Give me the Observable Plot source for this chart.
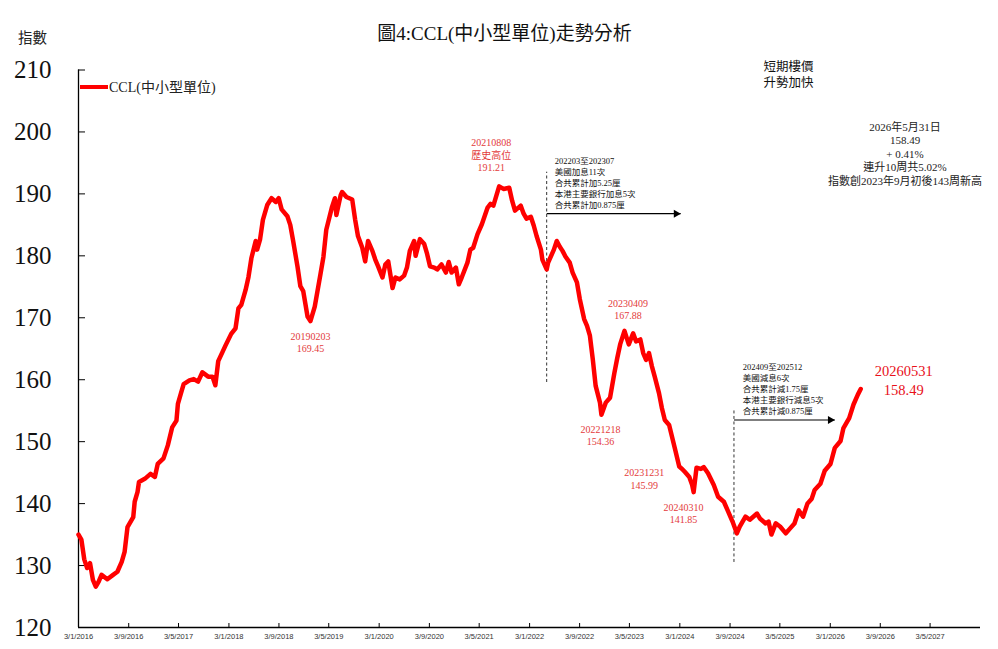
<!DOCTYPE html>
<html><head><meta charset="utf-8">
<script src="https://cdn.jsdelivr.net/npm/d3@7"></script>
<script src="https://cdn.jsdelivr.net/npm/@observablehq/plot@0.6"></script>
<style>
body{margin:0;background:#fff;}
#wrap{position:relative;width:998px;height:649px;overflow:hidden;font-family:"Liberation Serif","Noto Sans CJK TC",serif;color:#000;background:#fff}
#wrap svg{position:absolute;left:0;top:0}
.t{position:absolute;white-space:nowrap;line-height:1;transform:translate(-50%,-50%);text-align:center}
</style></head><body><div id="wrap"></div>
<script>
// ---- data ----
const dates = ["2016-01-03","2016-01-17","2016-01-31","2016-02-14","2016-02-28","2016-03-13","2016-03-27","2016-04-10","2016-04-24","2016-05-22","2016-06-19","2016-07-10","2016-07-31","2016-08-14","2016-08-28","2016-09-25","2016-10-02","2016-10-16","2016-10-23","2016-11-20","2016-12-18","2017-01-08","2017-01-22","2017-02-19","2017-03-12","2017-04-02","2017-04-23","2017-04-30","2017-05-14","2017-05-28","2017-06-25","2017-07-16","2017-08-06","2017-08-27","2017-09-24","2017-10-15","2017-10-29","2017-11-12","2017-12-03","2017-12-17","2018-01-14","2018-02-04","2018-02-18","2018-03-04","2018-03-25","2018-04-08","2018-04-22","2018-05-13","2018-05-20","2018-06-03","2018-06-17","2018-07-08","2018-07-29","2018-08-19","2018-09-02","2018-09-16","2018-10-14","2018-10-28","2018-11-11","2018-12-02","2018-12-16","2018-12-30","2019-01-20","2019-02-03","2019-02-24","2019-03-24","2019-04-07","2019-04-21","2019-05-19","2019-06-02","2019-06-09","2019-06-30","2019-07-07","2019-07-28","2019-08-25","2019-09-08","2019-09-22","2019-10-13","2019-10-27","2019-11-10","2019-12-01","2019-12-15","2019-12-29","2020-01-19","2020-02-02","2020-02-16","2020-03-08","2020-03-22","2020-04-12","2020-05-03","2020-05-17","2020-05-31","2020-06-21","2020-06-28","2020-07-19","2020-08-09","2020-08-23","2020-09-06","2020-09-27","2020-10-11","2020-11-01","2020-11-22","2020-12-06","2020-12-20","2021-01-10","2021-01-24","2021-02-07","2021-03-07","2021-03-21","2021-04-04","2021-04-25","2021-05-16","2021-06-13","2021-06-27","2021-07-11","2021-08-08","2021-08-29","2021-09-26","2021-10-10","2021-10-24","2021-11-21","2021-12-05","2021-12-19","2022-01-09","2022-01-23","2022-02-06","2022-02-27","2022-03-06","2022-03-27","2022-04-03","2022-05-01","2022-05-15","2022-05-29","2022-06-12","2022-06-26","2022-07-17","2022-07-31","2022-08-21","2022-09-04","2022-09-25","2022-10-09","2022-10-23","2022-11-06","2022-11-20","2022-12-11","2022-12-18","2023-01-08","2023-01-29","2023-02-19","2023-03-05","2023-03-19","2023-04-09","2023-04-30","2023-05-21","2023-06-04","2023-06-25","2023-07-09","2023-07-23","2023-08-06","2023-08-20","2023-09-03","2023-09-24","2023-10-08","2023-10-22","2023-11-12","2023-11-26","2023-12-10","2023-12-31","2024-01-14","2024-01-28","2024-02-18","2024-03-03","2024-03-10","2024-03-24","2024-04-14","2024-04-28","2024-05-19","2024-06-16","2024-07-07","2024-08-04","2024-08-25","2024-09-15","2024-10-06","2024-10-20","2024-11-17","2024-12-08","2025-01-12","2025-01-26","2025-02-23","2025-03-09","2025-03-23","2025-04-13","2025-05-04","2025-06-01","2025-06-22","2025-07-13","2025-08-03","2025-08-24","2025-09-14","2025-10-05","2025-10-19","2025-11-16","2025-12-07","2026-01-04","2026-01-25","2026-02-22","2026-03-08","2026-04-05","2026-04-26","2026-05-17","2026-05-31"];
const ccl = [135.0,134.2,131.0,129.6,130.4,127.7,126.6,127.4,128.5,127.8,128.5,129.0,130.6,132.2,136.2,137.8,140.3,141.9,143.5,144.0,144.8,144.3,146.4,147.3,149.4,152.3,153.4,156.1,157.7,159.3,159.9,160.1,159.7,161.2,160.5,160.5,159.1,163.0,164.5,165.5,167.4,168.3,171.5,172.1,174.5,176.6,179.6,182.4,181.0,182.6,185.8,188.2,189.3,188.7,189.3,187.5,186.4,185.0,182.4,178.3,175.1,174.3,170.2,169.45,171.8,177.1,179.8,184.2,187.9,189.3,186.6,189.8,190.3,189.5,189.1,185.9,183.2,181.3,179.1,182.4,180.8,179.4,178.3,176.5,178.6,179.1,174.8,176.5,176.2,176.8,178.1,180.8,182.4,180.0,182.7,181.9,180.3,178.3,178.1,177.8,178.6,177.3,179.0,177.3,178.1,175.4,176.5,178.9,181.0,181.3,183.5,185.1,187.8,188.4,188.1,191.21,190.8,191.0,188.9,187.3,188.1,186.8,186.0,186.3,184.9,183.2,181.0,179.4,177.8,178.9,181.0,182.4,181.5,180.8,179.9,178.9,177.3,175.7,173.0,169.8,168.7,167.1,163.3,159.0,156.3,154.36,156.3,157.1,161.1,163.5,165.7,167.88,165.7,167.5,166.2,166.5,164.3,163.2,164.3,162.2,160.5,157.8,155.4,153.5,152.7,150.8,148.9,145.99,145.6,145.1,144.3,143.0,141.85,145.8,145.6,145.9,144.9,143.0,141.1,140.3,138.7,137.1,135.2,136.3,137.9,137.4,138.4,137.6,136.8,137.1,135.0,136.8,136.3,135.2,136.0,136.8,138.9,137.9,140.0,140.8,142.2,143.2,145.3,146.4,149.0,150.1,152.2,153.8,156.0,157.6,158.49];

const yTicks = [120,130,140,150,160,170,180,190,200,210];
const xTickLabels = ["3/1/2016","3/9/2016","3/5/2017","3/1/2018","3/9/2018","3/5/2019","3/1/2020","3/9/2020","3/5/2021","3/1/2022","3/9/2022","3/5/2023","3/1/2024","3/9/2024","3/5/2025","3/1/2026","3/9/2026","3/5/2027"];
const xDomain = ["2016-01-03","2028-01-03"];

const hlDates = ["2019-02-03","2021-08-08","2023-04-09","2022-12-18","2023-12-31","2024-03-10","2026-05-31"];
const hlValues = [169.45,191.21,167.88,154.36,145.99,141.85,158.49];
const hlLabels = ["20190203\n169.45","20210808\n歷史高位\n191.21","20230409\n167.88","20221218\n154.36","20231231\n145.99","20240310\n141.85","20260531\n158.49"];

const rateStart = ["2022-03-27","2024-09-22"];
const rateArrowEnd = ["2024-01-07","2026-01-25"];
const rateTexts = ["202203至202307\n美國加息11次\n合共累計加5.25厘\n本港主要銀行加息5次\n合共累計加0.875厘",
                   "202409至202512\n美國減息6次\n合共累計減1.75厘\n本港主要銀行減息5次\n合共累計減0.875厘"];

const titleText = "圖4:CCL(中小型單位)走勢分析";
const yUnit = "指數";
const legendText = "CCL(中小型單位)";
const noteShort = ["短期樓價","升勢加快"];
const noteLatest = ["2026年5月31日","158.49","+ 0.41%","連升10周共5.02%","指數創2023年9月初後143周新高"];

// ---- build ----
const parse = d3.utcParse("%Y-%m-%d");
const series = dates.map((d,i)=>({date: parse(d), value: ccl[i]}));
const xTicks = xTickLabels.map(s => { const [d,m,y] = s.split("/").map(Number); return new Date(Date.UTC(y,m-1,d)); });
const fmt = new Map(xTicks.map((d,i)=>[+d, xTickLabels[i]]));
const x0 = parse(xDomain[0]), x1 = parse(xDomain[1]);
const hl = hlDates.map((d,i)=>({date: parse(d), value: hlValues[i], label: hlLabels[i]}));

// label placement (pixel offsets relative to the point)
const hlLayout = [[0,21],[-8,-31.6],[3.5,-21.7],[-1,20.5],[-35,12],[-10,21],[43,-9.4]];
const serif = '"Liberation Serif","Noto Sans CJK TC",serif';

const hlMarks = hl.map((d,i)=>{
  const big = i === hl.length-1;
  return Plot.text([d], {x:"date", y:"value", text:"label", dx: hlLayout[i][0], dy: hlLayout[i][1],
    fill: big ? "#e8101a" : "#e33b3b", fontSize: big ? 14.5 : 10, lineHeight: big ? 1.27 : 1.25,
    lineAnchor:"middle", textAnchor:"middle", fontFamily: serif});
});

const rateLayout = [{y1:159.55,y2:193.5,ya:186.8,yt:196.0,dxT:8,lh:1.28},{y1:130.5,y2:155.0,ya:153.5,yt:162.8,dxT:8.7,lh:1.3}];
const rateMarks = rateStart.flatMap((s,i)=>{
  const L = rateLayout[i], xs = parse(s), xe = parse(rateArrowEnd[i]);
  return [
    Plot.ruleX([xs], {y1:L.y1, y2:L.y2, stroke:"#333", strokeWidth:1, strokeDasharray:"3,2.5"}),
    Plot.link([0], {x1:()=>xs, x2:()=>xe, y1:()=>L.ya, y2:()=>L.ya, stroke:"#000", strokeWidth:1.2}),
    Plot.dot([0], {x:()=>xe, y:()=>L.ya, symbol:"triangle", rotate:90, r:3, fill:"#000", stroke:"none", dx:-4.5}),
    Plot.text([rateTexts[i]], {x:()=>xs, y:()=>L.yt, text:d=>d, dx:L.dxT, textAnchor:"start", lineAnchor:"top",
      fontSize:8.5, lineHeight:L.lh, fill:"#111", fontFamily: serif})
  ];
});

const chart = Plot.plot({
  width: 998, height: 649,
  marginLeft: 78, marginRight: 18, marginTop: 69.5, marginBottom: 22,
  style: {fontFamily: serif, background: "transparent", overflow: "visible"},
  x: {type: "utc", domain: [x0, x1], label: null},
  y: {domain: [120, 210], label: null},
  marks: [
    Plot.axisY(yTicks, {tickSize: 0, tickPadding: 27, fontSize: 25, fill: "#111", fontFamily: '"Liberation Serif",serif', label: null}),
    Plot.axisY(yTicks, {tickSize: 7, dx: 7, tickFormat: () => "", stroke: "#000", label: null}),
    Plot.axisX(xTicks, {tickSize: 0, tickPadding: 6, tickFormat: d => fmt.get(+d), fontSize: 7.5, fontFamily: '"Liberation Sans",sans-serif', fill: "#333", label: null}),
    Plot.axisX(xTicks, {tickSize: 4, dy: -4, tickFormat: () => "", stroke: "#000", label: null}),
    Plot.ruleX([x0], {stroke: "#000", strokeWidth: 1.3}),
    Plot.ruleY([120], {stroke: "#000", strokeWidth: 1.3}),
    ...rateMarks,
    Plot.lineY(series, {x: "date", y: "value", stroke: "#ff0000", strokeWidth: 4.5, strokeLinejoin: "round"}),
    ...hlMarks
  ]
});

const wrap = document.getElementById("wrap");
wrap.appendChild(chart);

function addText(txt, cx, cy, size, extra) {
  const el = document.createElement("div");
  el.className = "t";
  el.style.left = cx + "px"; el.style.top = cy + "px"; el.style.fontSize = size + "px";
  if (extra) Object.assign(el.style, extra);
  el.innerHTML = txt;
  wrap.appendChild(el);
  return el;
}
addText(titleText, 504.5, 33, 19, {color:"#111"});
addText(yUnit, 32.5, 37.5, 14.5, {color:"#222"});
// legend
const sw = document.createElement("div");
Object.assign(sw.style, {position:"absolute", left:"80px", top:"85px", width:"28px", height:"4px", background:"#ff0000"});
wrap.appendChild(sw);
addText(legendText, 109, 88, 14, {transform:"translate(0,-50%)", color:"#222"});
addText(noteShort.join("<br>"), 788.5, 74.7, 12.5, {lineHeight:"16px", color:"#111"});
addText(noteLatest.join("<br>"), 905, 154.7, 11, {lineHeight:"13.5px", color:"#222"});
</script>
</body></html>
